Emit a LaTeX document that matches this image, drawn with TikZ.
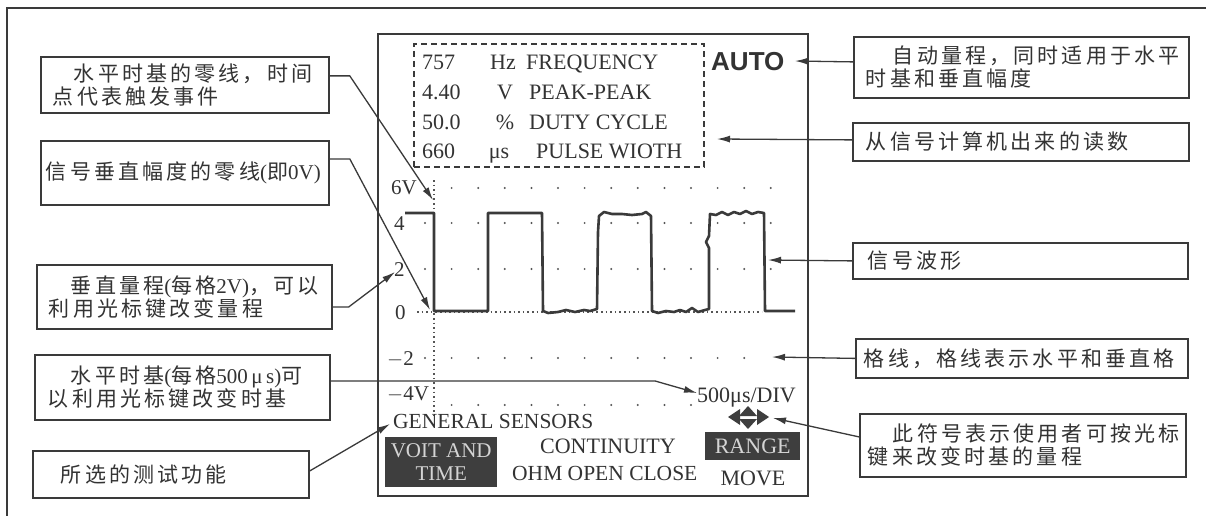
\documentclass[tikz,border=0pt]{standalone}
\usepackage{fontspec}
\setmainfont{Liberation Serif}
\newfontfamily\cjk[LetterSpace=15]{Noto Sans CJK SC}
\newfontfamily\latf{Liberation Serif}
\newfontfamily\autof{Liberation Sans}
\usetikzlibrary{arrows.meta}
\definecolor{ink}{HTML}{333333}
\definecolor{linec}{HTML}{3A3A3A}
\definecolor{darkc}{HTML}{3E3E3E}
\definecolor{litec}{HTML}{D4D4D4}
\definecolor{dotc}{HTML}{555555}
\begin{document}
\begin{tikzpicture}[x=1pt,y=-1pt,
  cbox/.style={draw=linec, line width=1.8pt, anchor=north west, align=left, inner ysep=0pt, inner xsep=4pt, text=ink, font=\cjk\fontsize{21}{23}\selectfont},
  conn/.style={draw=linec, line width=1.3pt, -{Latex[length=13pt,width=7pt]}},
  lbl/.style={inner sep=0pt, text=ink, font=\fontsize{22}{26}\selectfont},
  axl/.style={inner sep=0pt, text=ink, font=\fontsize{21}{25}\selectfont, anchor=base west},
  dk/.style={fill=darkc, draw=none, anchor=north west, inner sep=0pt, text=litec, align=center, font=\fontsize{21}{24}\selectfont},
  griddot/.style={fill=dotc},
  dense/.style={draw=dotc, line width=1.8pt, dash pattern=on 1.6pt off 3pt}
]
\useasboundingbox (0,0) rectangle (1206,516);
\fill[white] (0,0) rectangle (1206,516);
% outer frame
\draw[linec, line width=1.5pt] (7,516) -- (7,8) -- (1206,8);

% screen
\node[draw=linec, line width=2pt, anchor=north west, minimum width=430pt, minimum height=462pt, inner sep=0pt] (scr) at (377,33) {};

% readout box
\node[draw=linec, line width=1.6pt, dash pattern=on 6pt off 4pt, anchor=north west, minimum width=290pt, minimum height=123pt, inner sep=0pt] (ro) at (413,43) {};
\node[lbl, anchor=base west] (n1) at (422,70) {757};
\node[lbl, anchor=base] (u1) at (503,70) {Hz};
\node[lbl, anchor=base west] (l1) at (526,70) {FREQUENCY};
\node[lbl, anchor=base west] (n2) at (422,100) {4.40};
\node[lbl, anchor=base] (u2) at (505,100) {V};
\node[lbl, anchor=base west] (l2) at (529,100) {PEAK-PEAK};
\node[lbl, anchor=base west] (n3) at (422,129.5) {50.0};
\node[lbl, anchor=base] (u3) at (505,129.5) {\%};
\node[lbl, anchor=base west] (l3) at (529,129.5) {DUTY CYCLE};
\node[lbl, anchor=base west] (n4) at (422,158) {660};
\node[lbl, anchor=base] (u4) at (499,158) {μs};
\node[lbl, anchor=base west] (l4) at (536,158) {PULSE WIOTH};
\node[inner sep=0pt, anchor=base west, text=ink, font=\autof\bfseries\fontsize{26}{30}\selectfont] (auto) at (711,71) {AUTO};

% grid
\foreach \k in {1,...,13} \fill[griddot] ({425+26.6*\k},188) circle (1.1pt);
\foreach \k in {0,...,13} \fill[griddot] ({425+26.6*\k},223) circle (1.1pt);
\foreach \k in {0,...,13} \fill[griddot] ({425+26.6*\k},269) circle (1.1pt);
\foreach \k in {0,...,12} \fill[griddot] ({425+26.6*\k},358) circle (1.1pt);
\foreach \k in {1,...,10} \fill[griddot] ({425+26.6*\k},405) circle (1.1pt);
\draw[dense] (417,312) -- (762,312);
\draw[dense] (434,180) -- (434,417);

% axis labels
\node[axl] (a6) at (391,194) {6V};
\node[axl] (a4) at (394,230) {4};
\node[axl] (a2) at (394,276) {2};
\node[axl] (a0) at (395,319) {0};
\node[axl] (am2) at (387,365) {$-$2};
\node[axl] (am4) at (387,400) {$-$4V};
\node[lbl, anchor=base west] (div) at (697,402) {500μs/DIV};

% waveform
\draw[linec, line width=2.6pt, line join=round] (405,213) -- (434,213) -- (434,311) -- (488,311) -- (488,213) -- (542,213) -- (543,311)
  -- (548,313) -- (558,312) -- (566,310) -- (575,312) -- (584,310) -- (590,311) -- (597,309)
  -- (598,232) -- (599,216) -- (604,212) -- (612,214) -- (622,214) -- (632,215) -- (642,214) -- (646,212) -- (651,216)
  -- (652,311) -- (658,313) -- (666,311) -- (674,312) -- (680,310) -- (686,312) -- (692,308) -- (698,312) -- (705,310) -- (709,309)
  -- (709,248) -- (706,242) -- (709,236) -- (710,214) -- (716,215) -- (722,212) -- (728,215) -- (734,212) -- (740,214) -- (746,211) -- (752,214) -- (758,212) -- (764,213)
  -- (765,311) -- (795,311);

% bottom texts
\node[lbl, anchor=base west, font=\fontsize{21.5}{25}\selectfont] (gs) at (393,428) {GENERAL SENSORS};
\node[dk, minimum width=112pt, minimum height=50pt] (vt) at (385,437) {VOIT AND\\[-1pt]TIME};
\node[lbl, anchor=base] (ct) at (608,453) {CONTINUITY};
\node[lbl, anchor=base west, font=\fontsize{21.5}{25}\selectfont] (oh) at (512,480) {OHM OPEN CLOSE};
\node[dk, minimum width=95pt, minimum height=28pt, font=\fontsize{22}{25}\selectfont] (rg) at (705,432) {RANGE};
\node[lbl, anchor=base] (mv) at (753,485) {MOVE};
\node[inner sep=0pt, minimum width=42pt, minimum height=22pt] (sym) at (748,417) {};
\fill[darkc] (728,417) -- (740,409) -- (740,425) -- cycle;
\fill[darkc] (748,406) -- (757,416) -- (739,416) -- cycle;
\fill[darkc] (748,429) -- (757,419) -- (739,419) -- cycle;
\fill[darkc] (769,417) -- (757,409) -- (757,425) -- cycle;

% left boxes
\node[cbox, text width=280pt, minimum height=56pt] (b1) at (40,56) {\hspace*{29pt}水平时基的零线，时间\\\hspace*{8pt}点代表触发事件};
\node[cbox, text width=280pt, minimum height=64pt] (b2) at (40,140) {\hspace*{1pt}信号垂直幅度的零线{\latf (}即{\latf 0V)}};
\node[cbox, text width=287pt, minimum height=64pt] (b3) at (36,264) {\hspace*{30pt}垂直量程{\latf (}每格{\latf 2V)}，可以\\\hspace*{8pt}利用光标键改变量程};
\node[cbox, text width=287pt, minimum height=65pt] (b4) at (34,354) {\hspace*{32pt}水平时基{\latf (}每格{\latf 500\,μ\,s)}可\\\hspace*{9pt}以利用光标键改变时基};
\node[cbox, text width=220pt, inner xsep=28pt, minimum height=47pt] (b5) at (32,450) {所选的测试功能};

% right boxes
\node[cbox, text width=327pt, minimum height=61pt] (r1) at (853,36) {\hspace*{35pt}自动量程，同时适用于水平\\\hspace*{8pt}时基和垂直幅度};
\node[cbox, text width=310pt, inner xsep=13pt, minimum height=38pt] (r2) at (852,122) {从信号计算机出来的读数};
\node[cbox, text width=305pt, inner xsep=15pt, minimum height=36pt] (r3) at (852,242) {信号波形};
\node[cbox, text width=316pt, inner xsep=8pt, minimum height=39pt] (r4) at (855,338) {格线，格线表示水平和垂直格};
\node[cbox, text width=318pt, minimum height=63pt] (r5) at (859,413) {\hspace*{29pt}此符号表示使用者可按光标\\\hspace*{4pt}键来改变时基的量程};

% arrow targets
\coordinate (t1) at (433,200);
\coordinate (t2) at (430,310);
\coordinate (t3) at (395,272);
\coordinate (t4) at (697,393);
\coordinate (t5) at (390,424);
\coordinate (t6) at (795,61);
\coordinate (t7) at (717,139);
\coordinate (t8) at (768,260);
\coordinate (t9) at (772,357);
\coordinate (t10) at (773,418);

% connectors
\draw[conn] ([yshift=9pt]b1.east) -- ++(20,0) -- (t1);
\draw[conn] ([yshift=14pt]b2.east) -- ++(20,0) -- (t2);
\draw[conn] ([yshift=-10pt]b3.east) -- ++(16,0) -- (t3);
\draw[conn] ([yshift=6.5pt]b4.east) -- ++(324,0) -- (t4);
\draw[conn] ([yshift=3.5pt]b5.east) -- (t5);
\draw[conn] ([yshift=5.5pt]r1.west) -- (t6);
\draw[conn] ([yshift=2pt]r2.west) -- (t7);
\draw[conn] (r3.west) -- (t8);
\draw[conn] (r4.west) -- (t9);
\draw[conn] ([yshift=8.5pt]r5.west) -- (t10);
\end{tikzpicture}
\end{document}
